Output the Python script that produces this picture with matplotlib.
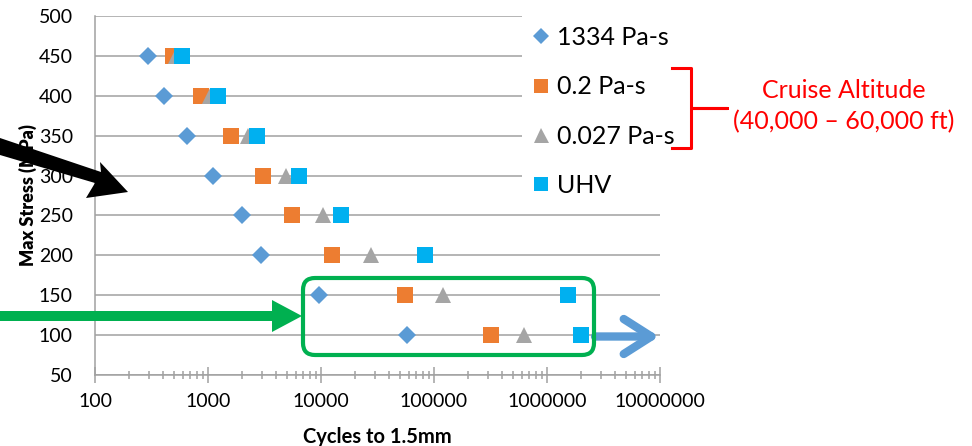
import matplotlib
matplotlib.use('Agg')
import matplotlib.pyplot as plt
from matplotlib.patches import Polygon, FancyBboxPatch, Rectangle
from matplotlib.transforms import IdentityTransform

plt.rcParams['font.family'] = ['Lato', 'DejaVu Sans']

# stress levels (MPa) and cycles to 1.5mm for each environment
stress = [450, 400, 350, 300, 250, 200, 150, 100]
cyc_1334 = [295, 410, 650, 1110, 2000, 2950, 9600, 58000]
cyc_02 = [490, 870, 1600, 3050, 5500, 12400, 55000, 320000]
cyc_0027 = [520, 1040, 2250, 4950, 10400, 27500, 121000, 625000]
cyc_uhv = [590, 1230, 2730, 6350, 14900, 84000, 1520000, 1990000]

series = [
    ('1334 Pa-s', cyc_1334, 'D', '#5B9BD5', 9.5),
    ('0.2 Pa-s', cyc_02, 's', '#ED7D31', 11),
    ('0.027 Pa-s', cyc_0027, '^', '#A5A5A5', 12),
    ('UHV', cyc_uhv, 's', '#00B0F0', 11),
]

W, H = 972, 446
fig = plt.figure(figsize=(W / 100, H / 100), dpi=100)
ax = fig.add_axes([95 / W, 1 - 375 / H, (660 - 95) / W, (375 - 16) / H])

for name, cyc, mk, col, ms in series:
    ax.plot(cyc, stress, linestyle='none', marker=mk, color=col, markersize=ms,
            markeredgewidth=0, label=name, zorder=3)

ax.set_xscale('log')
ax.set_xlim(100, 1e7)
ax.set_ylim(50, 500)
ax.set_yticks(range(50, 501, 50))
ax.set_xticks([1e2, 1e3, 1e4, 1e5, 1e6, 1e7])
ax.set_xticklabels(['100', '1000', '10000', '100000', '1000000', '10000000'])
ax.yaxis.grid(True, color='#A0A0A0', linewidth=1.1)
ax.set_axisbelow(True)
for s in ['top', 'right']:
    ax.spines[s].set_visible(False)
for s in ['left', 'bottom']:
    ax.spines[s].set_color('#A0A0A0')
    ax.spines[s].set_linewidth(1.1)
ax.tick_params(axis='y', length=0, labelsize=14, pad=16)
ax.tick_params(axis='x', which='major', direction='inout', length=12, width=1.1,
               color='#A0A0A0', labelsize=14, pad=7)
ax.tick_params(axis='x', which='minor', direction='inout', length=6, width=1.1,
               color='#A0A0A0')

ax.set_xlabel('Cycles to 1.5mm', fontsize=14.5, fontweight='bold', labelpad=12)
ax.set_ylabel('Max Stress (MPa)', fontsize=13, fontweight='heavy', labelpad=1)

# white cover behind the legend
pix = IdentityTransform()
fig.patches.append(Rectangle((522, H - 210), 180, 202, transform=pix,
                             facecolor='white', edgecolor='none', zorder=1))
leg = fig.legend(loc='upper left', bbox_to_anchor=(521 / W, 1 - 16 / H),
                 frameon=False, fontsize=18, handletextpad=0.25, labelspacing=1.05,
                 handlelength=0.8, borderaxespad=0, markerscale=0.9)
leg.set_zorder(5)

# green box around the low stress points
fig.patches.append(FancyBboxPatch((303, H - 355), 291, 77, transform=pix,
                                  boxstyle='round,pad=0,rounding_size=12',
                                  facecolor='none', edgecolor='#00B050',
                                  linewidth=3, zorder=6))

# black arrow
blk = [(0, H - 138), (101, H - 172), (100, H - 162), (128, H - 192),
       (86, H - 198), (95, H - 183), (0, H - 155)]
fig.patches.append(Polygon(blk, closed=True, transform=pix, facecolor='black',
                           edgecolor='none', zorder=6))

# green arrow
grn = [(0, H - 311), (272, H - 311), (272, H - 300), (302, H - 316),
       (272, H - 332), (272, H - 321), (0, H - 321)]
fig.patches.append(Polygon(grn, closed=True, transform=pix, facecolor='#00B050',
                           edgecolor='none', zorder=6))

# blue arrow (run-out)
fig.add_artist(matplotlib.patches.FancyArrowPatch(
    (595, H - 336.5), (659, H - 336.5), transform=pix,
    arrowstyle='->,head_length=1.1,head_width=0.7', color='#5B9BD5',
    linewidth=6, mutation_scale=18, shrinkA=0, shrinkB=0, zorder=6,
    capstyle='round', joinstyle='round'))

# red bracket
br = [(672, H - 68), (691, H - 68), (691, H - 108), (727, H - 108),
      (691, H - 108), (691, H - 148), (672, H - 148)]
fig.add_artist(matplotlib.lines.Line2D([p[0] for p in br], [p[1] for p in br],
                                       transform=pix, color='#FF0000',
                                       linewidth=2.2, zorder=6))
fig.text(844 / W, 1 - 90 / H, 'Cruise Altitude', color='#FF0000', fontsize=18,
         ha='center', va='center')
fig.text(844 / W, 1 - 122 / H, '(40,000 \u2013 60,000 ft)', color='#FF0000',
         fontsize=18, ha='center', va='center')

fig.savefig('out.png', dpi=100)
